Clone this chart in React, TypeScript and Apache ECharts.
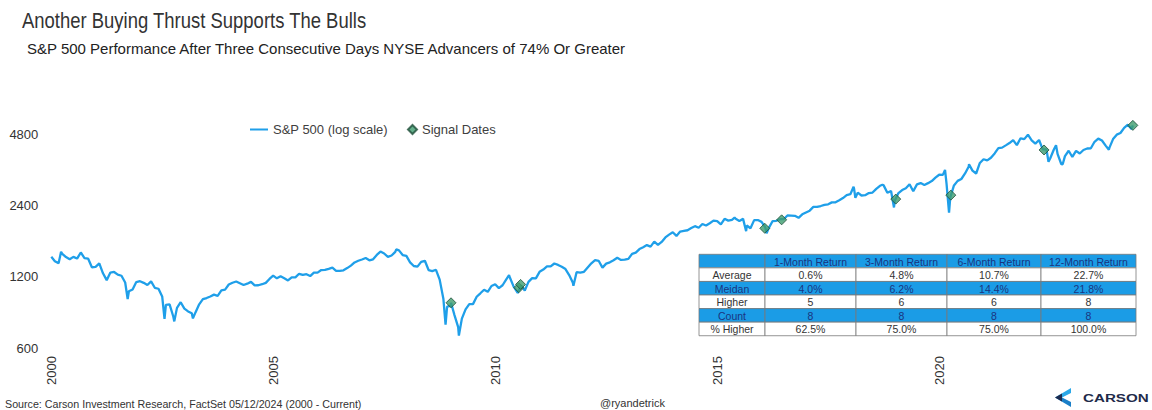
import React, { useEffect, useRef } from 'react';
import * as echarts from 'echarts';

const TITLE = 'Another Buying Thrust Supports The Bulls';
const SUBTITLE = 'S&P 500 Performance After Three Consecutive Days NYSE Advancers of 74% Or Greater';
const SOURCE = 'Source: Carson Investment Research, FactSet 05/12/2024 (2000 - Current)';
const HANDLE = '@ryandetrick';
const BRAND = 'CARSON';
const LINE_NAME = 'S&P 500 (log scale)';
const SIGNAL_NAME = 'Signal Dates';

// S&P 500 month-end closes, Jan 2000 - Dec 2009
const spx2000s = [
  1394, 1366, 1499, 1452, 1421, 1455, 1431, 1518, 1437, 1429, 1315, 1320,
  1366, 1240, 1160, 1249, 1256, 1224, 1211, 1134, 1041, 1060, 1139, 1148,
  1130, 1107, 1147, 1077, 1067, 990, 912, 916, 815, 886, 936, 880,
  856, 841, 848, 917, 964, 975, 990, 1008, 996, 1051, 1058, 1112,
  1131, 1145, 1126, 1107, 1121, 1141, 1102, 1104, 1115, 1130, 1174, 1212,
  1181, 1204, 1181, 1157, 1192, 1191, 1234, 1220, 1229, 1207, 1249, 1248,
  1280, 1281, 1295, 1311, 1270, 1270, 1277, 1304, 1336, 1378, 1401, 1418,
  1438, 1407, 1421, 1482, 1531, 1503, 1455, 1474, 1527, 1549, 1481, 1468,
  1379, 1331, 1323, 1386, 1400, 1280, 1267, 1283, 1166, 969, 896, 903,
  826, 735, 798, 873, 919, 919, 987, 1021, 1057, 1036, 1096, 1115,
];
// Jan 2010 - Dec 2019
const spx2010s = [
  1074, 1104, 1169, 1187, 1089, 1031, 1102, 1049, 1141, 1183, 1181, 1258,
  1286, 1327, 1326, 1364, 1345, 1321, 1292, 1219, 1131, 1253, 1247, 1258,
  1312, 1366, 1408, 1398, 1310, 1362, 1379, 1407, 1441, 1412, 1416, 1426,
  1498, 1515, 1569, 1598, 1631, 1606, 1686, 1633, 1682, 1757, 1806, 1848,
  1783, 1859, 1872, 1884, 1924, 1960, 1931, 2003, 1972, 2018, 2068, 2059,
  1995, 2105, 2068, 2086, 2107, 2063, 2104, 1972, 1920, 2079, 2080, 2044,
  1940, 1932, 2060, 2065, 2097, 2099, 2174, 2171, 2168, 2126, 2199, 2239,
  2279, 2364, 2363, 2384, 2412, 2423, 2470, 2472, 2519, 2575, 2648, 2674,
  2824, 2714, 2641, 2648, 2705, 2718, 2816, 2902, 2914, 2712, 2760, 2507,
  2704, 2784, 2834, 2946, 2752, 2942, 2980, 2926, 2977, 3038, 3141, 3231,
];
// Jan 2020 - Apr 2024
const spx2020s = [
  3226, 2954, 2585, 2912, 3044, 3100, 3271, 3500, 3363, 3270, 3622, 3756,
  3714, 3811, 3973, 4181, 4204, 4298, 4395, 4523, 4308, 4605, 4567, 4766,
  4516, 4374, 4530, 4132, 4132, 3785, 4130, 3955, 3586, 3872, 4080, 3840,
  4077, 3970, 4109, 4169, 4180, 4450, 4589, 4508, 4288, 4194, 4568, 4770,
  4846, 5096, 5254, 5036,
];
// intra-month highs / lows and first/last prints: [decimal year, level]
const spxExtremes: [number, number][] = [
  [2000.0, 1455], [2000.22, 1527], [2000.67, 1520], [2001.72, 966],
  [2002.55, 797], [2002.77, 777], [2003.19, 800], [2007.77, 1565],
  [2008.88, 752], [2009.003, 931], [2009.18, 677], [2010.31, 1217],
  [2010.5, 1022], [2011.33, 1364], [2011.76, 1099], [2015.39, 2131],
  [2015.65, 1867], [2016.11, 1829], [2018.07, 2873], [2018.11, 2581],
  [2018.72, 2931], [2018.98, 2351], [2020.13, 3386], [2020.22, 2237],
  [2020.67, 3580], [2022.0, 4796], [2022.46, 3667], [2022.63, 4305],
  [2022.78, 3577], [2023.82, 4117], [2024.36, 5223],
];
// signal dates: [decimal year, level]
const signalDates: [number, number][] = [
  [2009.003, 931], [2010.53, 1078], [2010.57, 1113], [2016.07, 1920],
  [2016.45, 2085], [2019.02, 2550], [2020.26, 2650], [2022.36, 4110],
  [2024.36, 5220],
];
const yTickValues = [600, 1200, 2400, 4800];

const tableHeader = ['', '1-Month Return', '3-Month Return', '6-Month Return', '12-Month Return'];
const tableRows = [
  ['Average', '0.6%', '4.8%', '10.7%', '22.7%'],
  ['Meidan', '4.0%', '6.2%', '14.4%', '21.8%'],
  ['Higher', '5', '6', '6', '8'],
  ['Count', '8', '8', '8', '8'],
  ['% Higher', '62.5%', '75.0%', '75.0%', '100.0%'],
];

const FONT = "'Liberation Sans', Arial, sans-serif";
const LINE_COLOR = '#1f9fe9';
const TABLE_BLUE = '#1b9ce6';
const TABLE_NAVY = '#1a3480';
const TEXT = '#333333';

function buildLine(): [number, number][] {
  const monthly = [...spx2000s, ...spx2010s, ...spx2020s];
  const pts: [number, number][] = monthly.map((v, i) => [2000 + (i + 0.97) / 12, v]);
  return [...pts, ...spxExtremes].sort((a, b) => a[0] - b[0]);
}

function buildTable(): any[] {
  const colX = [699, 765, 856, 947, 1041, 1136];
  const top = 254.3;
  const rowH = 13.57;
  const all = [tableHeader, ...tableRows];
  const els: any[] = [];
  all.forEach((row, r) => {
    const blue = r % 2 === 0;
    row.forEach((cell, c) => {
      const x = colX[c];
      const w = colX[c + 1] - colX[c];
      const y = top + r * rowH;
      els.push({
        type: 'rect',
        shape: { x, y, width: w, height: rowH },
        style: { fill: blue ? TABLE_BLUE : '#ffffff', stroke: '#7a7a7a', lineWidth: 0.8 },
        z: 10,
      });
      if (cell) {
        els.push({
          type: 'text',
          x: x + w / 2,
          y: y + rowH / 2 + 0.5,
          style: {
            text: cell,
            fontSize: 10.5,
            fontFamily: FONT,
            fill: blue ? TABLE_NAVY : TEXT,
            align: 'center',
            verticalAlign: 'middle',
          },
          z: 11,
        });
      }
    });
  });
  return els;
}

export default function App() {
  const ref = useRef<HTMLDivElement>(null);
  useEffect(() => {
    document.body.style.margin = '0';
    const chart = echarts.init(ref.current!, null, { renderer: 'svg' });
    const option: any = {
      animation: false,
      backgroundColor: '#ffffff',
      grid: { left: 51.3, right: 8.5, top: 112.6, bottom: 62, containLabel: false },
      legend: [
        {
          data: [{ name: LINE_NAME, icon: 'rect' }],
          left: 245,
          top: 118,
          itemWidth: 18,
          itemHeight: 2,
          textStyle: { fontSize: 13, color: '#404040', fontFamily: FONT },
        },
        {
          data: [{ name: SIGNAL_NAME, icon: 'diamond' }],
          left: 402,
          top: 118,
          itemWidth: 9,
          itemHeight: 9,
          textStyle: { fontSize: 13, color: '#404040', fontFamily: FONT },
        },
      ],
      xAxis: {
        type: 'value',
        min: 2000,
        max: 2024.6,
        interval: 5,
        axisLine: { show: false },
        axisTick: { show: false },
        splitLine: { show: false },
        axisLabel: {
          rotate: 90,
          margin: 8,
          fontSize: 13,
          color: TEXT,
          fontFamily: FONT,
          showMaxLabel: false,
          formatter: (v: number) => String(Math.round(v)),
        },
      },
      yAxis: {
        type: 'log',
        logBase: 2,
        min: 600,
        max: 600 * Math.pow(2, 3.3),
        axisLine: { show: false },
        axisTick: { show: false },
        splitLine: { show: false },
        axisLabel: {
          customValues: yTickValues,
          margin: 13,
          fontSize: 13,
          color: TEXT,
          fontFamily: FONT,
          formatter: (v: number) => String(Math.round(v)),
        },
      },
      series: [
        {
          name: LINE_NAME,
          type: 'line',
          data: buildLine(),
          symbol: 'none',
          showSymbol: false,
          lineStyle: { color: LINE_COLOR, width: 2.3 },
          itemStyle: { color: LINE_COLOR },
          z: 2,
        },
        {
          name: SIGNAL_NAME,
          type: 'scatter',
          data: signalDates,
          symbol: 'diamond',
          symbolSize: 10,
          itemStyle: { color: '#3d9c6e', borderColor: '#1f4f3a', borderWidth: 1 },
          z: 5,
        },
      ],
      graphic: [
        {
          type: 'text', x: 22, y: 20, scaleX: 0.84,
          style: { text: TITLE, fontSize: 22, fontFamily: FONT, fill: TEXT, verticalAlign: 'middle' },
        },
        {
          type: 'text', x: 27, y: 48,
          style: { text: SUBTITLE, fontSize: 15, fontFamily: FONT, fill: '#222', verticalAlign: 'middle' },
        },
        {
          type: 'text', x: 5, y: 404,
          style: { text: SOURCE, fontSize: 10.7, fontFamily: FONT, fill: TEXT, verticalAlign: 'middle' },
        },
        {
          type: 'text', x: 600, y: 403,
          style: { text: HANDLE, fontSize: 11, fontFamily: FONT, fill: TEXT, verticalAlign: 'middle' },
        },
        {
          type: 'polygon',
          shape: { points: [[1071, 388], [1055, 397.5], [1062, 397.5], [1071, 393]] },
          style: { fill: '#2aa8e8' },
        },
        {
          type: 'polygon',
          shape: { points: [[1055, 397.5], [1071, 407], [1071, 402], [1062, 397.5]] },
          style: { fill: '#1a7fc8' },
        },
        {
          type: 'polygon',
          shape: { points: [[1055, 397.5], [1062, 393.5], [1062, 401.5]] },
          style: { fill: '#1d2b4f' },
        },
        {
          type: 'text', x: 1083, y: 398, scaleX: 1.38,
          style: { text: BRAND, fontSize: 11, fontWeight: 'bold', fontFamily: FONT, fill: '#1f2b4a', verticalAlign: 'middle' },
        },
        ...buildTable(),
      ],
    };
    chart.setOption(option);
    return () => chart.dispose();
  }, []);
  return <div ref={ref} style={{ width: 1152, height: 410 }} />;
}
